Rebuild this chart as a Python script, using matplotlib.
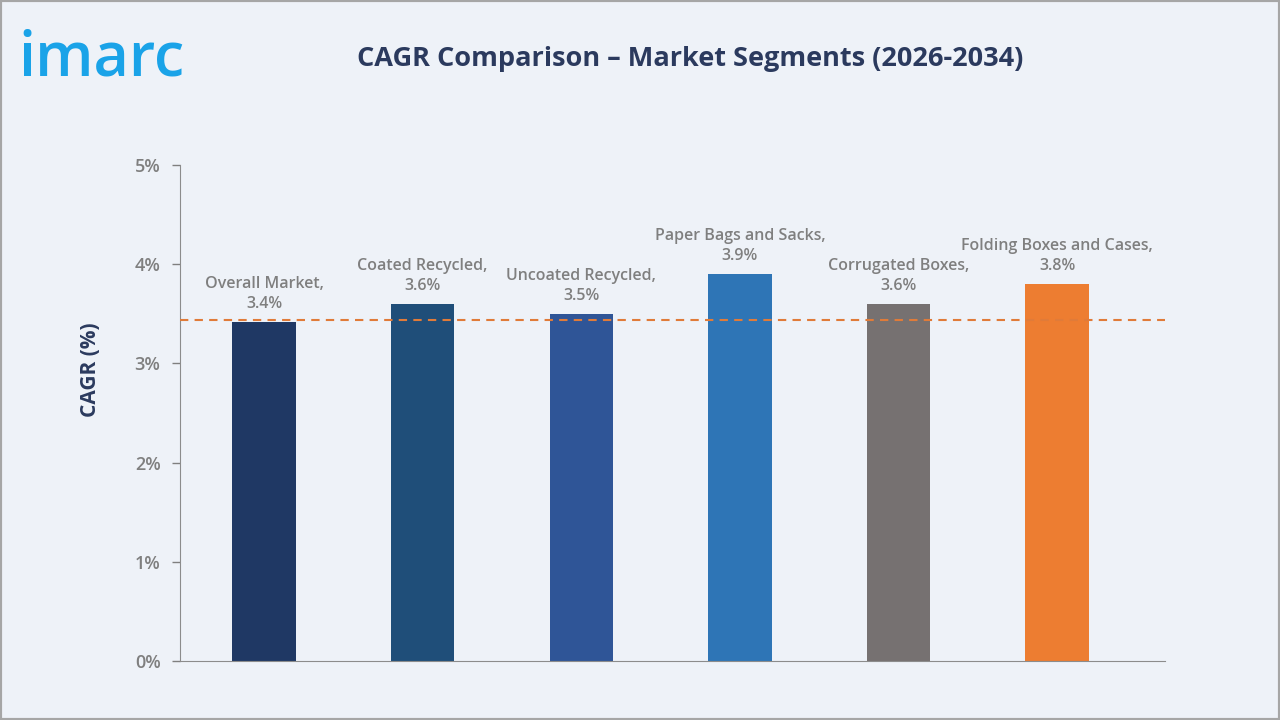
import matplotlib
matplotlib.use('Agg')
import matplotlib.pyplot as plt
from matplotlib.patches import Rectangle

categories = ["Overall Market", "Coated Recycled", "Uncoated Recycled",
              "Paper Bags and Sacks", "Corrugated Boxes", "Folding Boxes and Cases"]
cagr = [3.42, 3.6, 3.5, 3.9, 3.6, 3.8]
labels = ["3.4%", "3.6%", "3.5%", "3.9%", "3.6%", "3.8%"]
colors = ["#1F3864", "#1F4E79", "#2F5597", "#2E75B6", "#767171", "#ED7D31"]
overall_line = 3.44
yticks = [0, 1, 2, 3, 4, 5]

bg = "#EEF2F8"
gray = "#7F7F7F"
navy = "#2B3A5E"

plt.rcParams['font.family'] = ['Open Sans', 'DejaVu Sans']

fig = plt.figure(figsize=(12.8, 7.2), dpi=100, facecolor=bg)
fig.patches.append(Rectangle((0, 0), 1, 1, transform=fig.transFigure,
                             fill=False, edgecolor="#A6A6A6", linewidth=3))

ax = fig.add_axes([0.1406, 0.0819, 0.7696, 0.689])
ax.set_facecolor(bg)

x = list(range(len(categories)))
ax.bar(x, cagr, width=0.40, color=colors, zorder=2)
ax.axhline(overall_line, color="#E07B39", linestyle=(0, (4, 3)), linewidth=1.5, zorder=3)

for xi, v, cat, lab in zip(x, cagr, categories, labels):
    ax.text(xi, v + 0.1, cat + ",\n" + lab, ha="center", va="bottom",
            fontsize=11.5, fontweight="semibold", color=gray, linespacing=1.35, zorder=4)

ax.set_xlim(-0.53, 5.68)
ax.set_ylim(0, 5)
ax.set_yticks(yticks)
ax.set_yticklabels([f"{t}%" for t in yticks])
ax.set_xticks([])
ax.tick_params(axis="y", colors=gray, labelsize=13, length=6, width=1, pad=8)
for t in ax.get_yticklabels():
    t.set_fontweight("semibold")
    t.set_color(gray)
for s in ["top", "right"]:
    ax.spines[s].set_visible(False)
for s in ["left", "bottom"]:
    ax.spines[s].set_color("#8C8C8C")
ax.set_ylabel("CAGR (%)", fontsize=15, fontweight="bold", color=navy)
ax.yaxis.set_label_coords(-0.08, 0.587)

fig.text(0.539, 0.918, "CAGR Comparison \u2013 Market Segments (2026-2034)",
         ha="center", va="center", fontsize=19.5, fontweight="bold", color=navy)
fig.text(0.014, 0.918, "imarc", ha="left", va="center", fontsize=44,
         fontweight="semibold", color="#1AA3E8")

fig.savefig("out.png", dpi=100, facecolor=bg)
